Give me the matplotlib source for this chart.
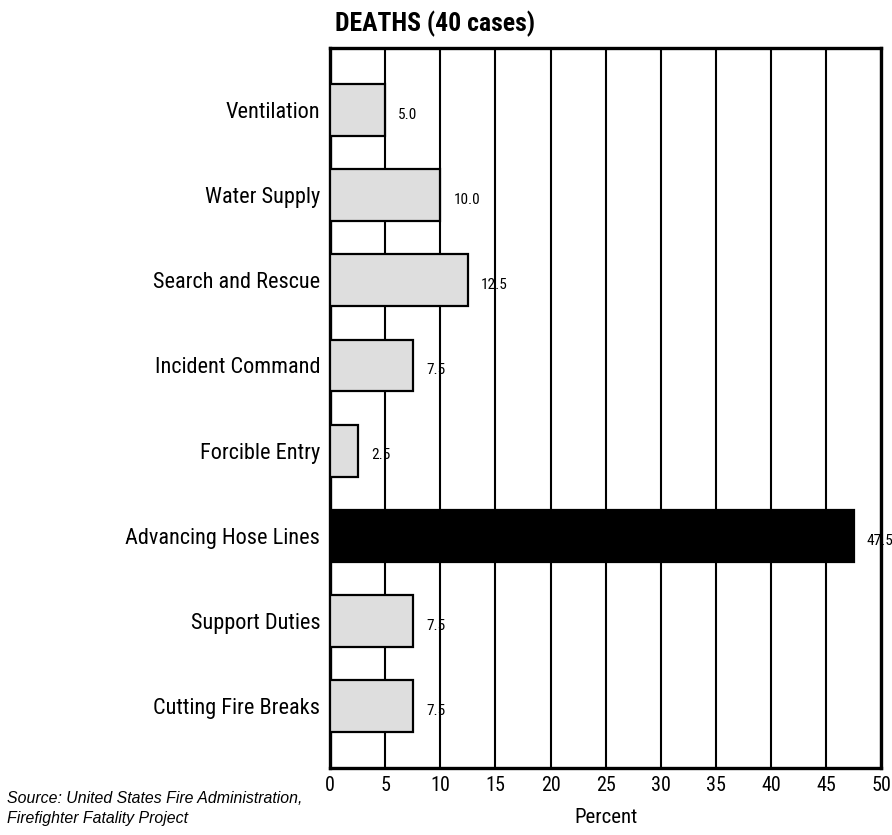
import numpy as np
import matplotlib
matplotlib.use("Agg")
import matplotlib.pyplot as plt

# data
categories = ['Ventilation', 'Water Supply', 'Search and Rescue', 'Incident Command',
              'Forcible Entry', 'Advancing Hose Lines', 'Support Duties', 'Cutting Fire Breaks']
percent = [5.0, 10.0, 12.5, 7.5, 2.5, 47.5, 7.5, 7.5]
highlight = 'Advancing Hose Lines'
xticks = [0, 5, 10, 15, 20, 25, 30, 35, 40, 45, 50]

plt.rcParams['font.family'] = ['Roboto Condensed', 'DejaVu Sans']

fig = plt.figure(figsize=(8.92, 8.35), dpi=100)
ax = fig.add_axes([0.370, 0.0802, 0.618, 0.8623])

y = np.arange(len(categories))
colors = ['black' if c == highlight else '#dedede' for c in categories]
ax.barh(y, percent, height=0.61, color=colors, edgecolor='black', linewidth=1.6, zorder=3)

for yi, v in zip(y, percent):
    ax.annotate('%.1f' % v, (v, yi), xytext=(9.5, -3.5), textcoords='offset points',
                ha='left', va='center', fontsize=11, annotation_clip=False, zorder=4)

ax.set_xlim(0, 50)
ax.set_ylim(len(categories) - 1 + 0.73, -0.73)
ax.set_xticks(xticks)
ax.set_yticks(y)
ax.set_yticklabels(categories, fontsize=16)
ax.tick_params(axis='x', labelsize=14.5, length=0, pad=6)
ax.tick_params(axis='y', length=0, pad=7)
ax.xaxis.grid(True, color='black', linewidth=1.5, zorder=1)
ax.set_axisbelow(True)
for s in ax.spines.values():
    s.set_linewidth(2.4)
    s.set_zorder(2)

ax.set_xlabel('Percent', fontsize=15, labelpad=9)
fig.text(0.3755, 0.972, 'DEATHS (40 cases)', fontsize=18.5, fontweight='bold',
         ha='left', va='center')

fig.text(0.008, 0.0525, 'Source: United States Fire Administration,\nFirefighter Fatality Project',
         fontsize=11.4, style='italic', family=['Liberation Sans', 'DejaVu Sans'],
         ha='left', va='top', linespacing=1.4)

fig.savefig('out.png', dpi=100)
